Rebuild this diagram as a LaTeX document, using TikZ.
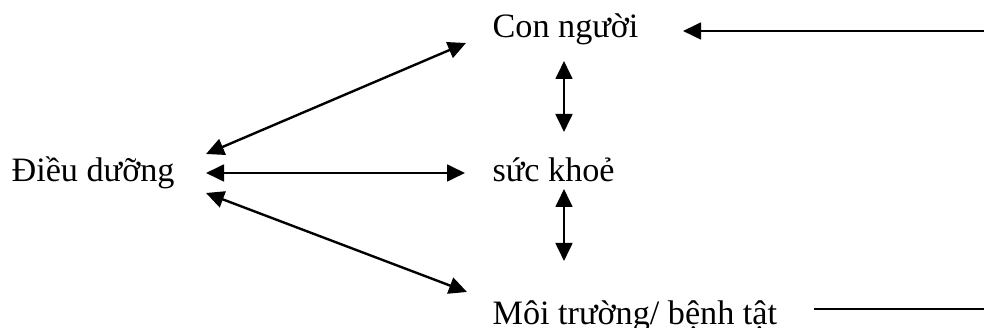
\documentclass[tikz,border=0pt]{standalone}
\usepackage{fontspec}
\setmainfont{Liberation Serif}
\usetikzlibrary{arrows.meta,positioning}
\tikzset{
  every node/.style={
    font=\fontsize{11.4}{13.5}\selectfont
  },
  term/.style={
    inner sep=0pt,
    anchor=base west
  },
  biarrow/.style={
    line width=0.8pt,
    {Triangle[length=6pt,width=5.6pt]}-{Triangle[length=6pt,width=5.6pt]}
  },
  onearrow/.style={
    line width=0.8pt,
    -{Triangle[length=6pt,width=5.6pt]}
  },
  plainline/.style={
    line width=0.8pt
  }
}
\begin{document}
\begin{tikzpicture}[x=0.33333pt,y=-0.33333pt]
  \useasboundingbox (0,0) rectangle (984,328);
  % terms
  \node [term] (dieu) at (11,182) {Điều dưỡng};
  \node [term] (con) at (492,38) {Con người};
  \node [term] (suc) at (492,182) {sức khoẻ};
  \node [term] (moi) at (492,325) {Môi trường/ bệnh tật};
  % loop back from the right
  \coordinate (loop top) at (984,31);
  \coordinate (loop bot) at (984,309);
  % links
  \draw [biarrow] ([shift={(195,-28)}]dieu.base west) -- ([shift={(-26,5)}]con.base west);
  \draw [biarrow] ([shift={(195,-9)}]dieu.base west) -- ([shift={(-27,-9)}]suc.base west);
  \draw [biarrow] ([shift={(195,11)}]dieu.base west) -- ([shift={(-25,-33)}]moi.base west);
  \draw [biarrow] ([shift={(72,23)}]con.base west) -- ([shift={(72,-50)}]suc.base west);
  \draw [biarrow] ([shift={(72,7)}]suc.base west) -- ([shift={(72,-64)}]moi.base west);
  \draw [onearrow] (loop top) -- ([shift={(191,-7)}]con.base west);
  \draw [plainline] ([shift={(322,-16)}]moi.base west) -- (loop bot);
\end{tikzpicture}
\end{document}
